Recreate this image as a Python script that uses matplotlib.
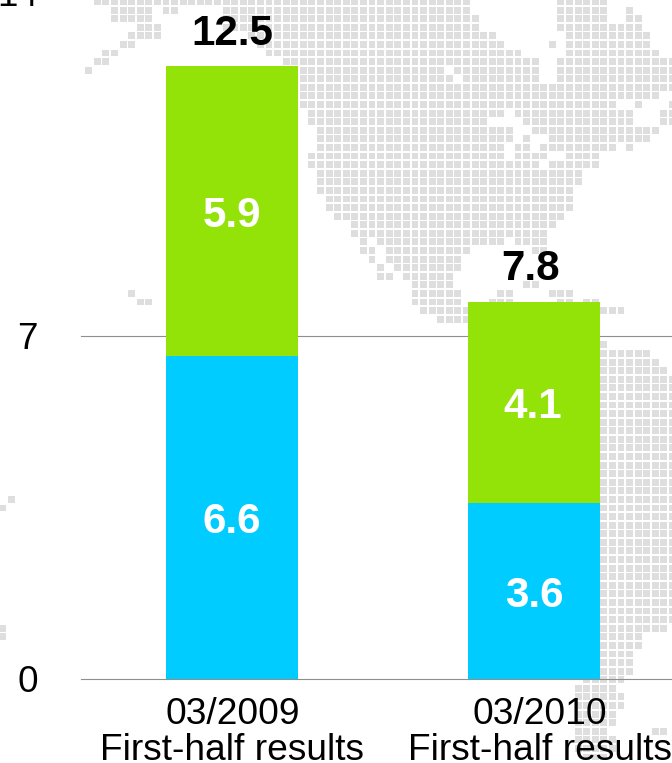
import matplotlib
matplotlib.use("Agg")
import matplotlib.pyplot as plt
from matplotlib.collections import PolyCollection
from matplotlib.transforms import ScaledTranslation

plt.rcParams['font.family'] = ['Liberation Sans', 'DejaVu Sans']

# --- chart data ---
periods = ["03/2009\nFirst-half results", "03/2010\nFirst-half results"]
lower_values = [6.6, 3.6]
upper_values = [5.9, 4.1]
total_labels = ["12.5", "7.8"]
y_ticks = [0, 7, 14]

LOWER_COLOR = "#00CCFF"
UPPER_COLOR = "#94E308"
GRID_COLOR = "#8E8E8E"
MAP_COLOR = "#DEDEDE"

# --- decorative dot-matrix world map: row -> runs of filled columns ---
map_runs = {
    0: [(-28, 15), (26, 31)],
    1: [(-26, -22), (-20, -19), (-13, 15), (26, 31), (34, 34)],
    2: [(-26, -22), (-13, 16), (26, 31), (34, 35)],
    3: [(-23, -21), (-13, 16), (26, 35)],
    4: [(-24, -21), (-10, 18), (27, 36)],
    5: [(-25, -24), (-9, 19), (25, 25), (27, 36)],
    6: [(-27, -26), (-8, 21), (27, 37)],
    7: [(-28, -27), (-6, 23), (26, 39)],
    8: [(-29, -29), (-4, 12), (14, 23), (26, 39)],
    9: [(-4, 13), (15, 23), (26, 39)],
    10: [(-4, 39)],
    11: [(-4, 37)],
    12: [(-4, 32), (35, 35), (39, 39)],
    13: [(-3, 19), (21, 34), (38, 39)],
    14: [(-3, 17), (22, 34), (38, 39)],
    15: [(-2, 20), (23, 37)],
    16: [(-2, 20), (22, 22), (25, 36)],
    17: [(-2, 19), (21, 22), (24, 32), (34, 34)],
    18: [(-3, 19), (21, 24), (27, 30)],
    19: [(-3, 23), (25, 30)],
    20: [(-2, 28)],
    21: [(-2, 28)],
    22: [(-2, 27)],
    23: [(-1, 27)],
    24: [(-1, 27)],
    25: [(0, 26)],
    26: [(2, 25)],
    27: [(2, 24)],
    28: [(3, 3), (5, 19), (21, 24)],
    29: [(3, 4), (6, 15), (23, 24)],
    30: [(4, 4), (6, 14)],
    31: [(5, 5), (7, 14)],
    32: [(5, 6), (8, 13)],
    33: [(9, 13), (22, 23)],
    34: [(-24, -24), (9, 14), (19, 20), (25, 27)],
    35: [(-23, -22), (9, 14), (18, 20), (26, 27), (29, 30)],
    36: [(10, 33)],
    37: [(12, 15)],
    40: [(31, 31)],
    41: [(31, 36)],
    42: [(31, 37)],
    43: [(31, 38)],
    **{r: [(31, 39)] for r in range(44, 73)},
    58: [(-38, -38), (31, 39)],
    59: [(-39, -39), (31, 39)],
    73: [(-39, -39), (31, 38)],
    74: [(-39, -39), (31, 35)],
    75: [(31, 35)],
    76: [(31, 34)],
    77: [(31, 34)],
    78: [(31, 34)],
    79: [(29, 33)],
    80: [(28, 32)],
    81: [(28, 33)],
    82: [(28, 33)],
    83: [(28, 32)],
    84: [(28, 32)],
    85: [(28, 31), (37, 38)],
    86: [(28, 32)],
    87: [(28, 32)],
    88: [(29, 31)],
}

W, H, DPI = 672, 763, 100
fig = plt.figure(figsize=(W / DPI, H / DPI), dpi=DPI, facecolor="white")

# background map, in pixel coordinates
bg = fig.add_axes([0, 0, 1, 1], zorder=0)
bg.set_xlim(0, W)
bg.set_ylim(H, 0)
bg.axis("off")
pitch, side, col0, row0 = 8.585, 6.9, 337.7, 1.5
squares = []
for row, runs in map_runs.items():
    cy = row0 + row * pitch
    for start, end in runs:
        for col in range(start, end + 1):
            cx = col0 + col * pitch
            h = side / 2
            squares.append([(cx - h, cy - h), (cx + h, cy - h), (cx + h, cy + h), (cx - h, cy + h)])
bg.add_collection(PolyCollection(squares, facecolors=MAP_COLOR, edgecolors="none"))

# main axes: extends above the canvas so the 14 tick label is cropped
x0, x1 = 81, 672
y_zero, px_per_unit = 679, 49.0
ax = fig.add_axes([x0 / W, (H - y_zero) / H, (x1 - x0) / W, 14 * px_per_unit / H], zorder=1)
ax.patch.set_alpha(0)
ax.set_ylim(0, 14)
ax.set_xlim(-0.5, 1.457)
for s in ax.spines.values():
    s.set_visible(False)

xs = [0, 1]
ax.set_axisbelow(True)
ax.yaxis.grid(True, color=GRID_COLOR, linewidth=0.8, clip_on=False)
ax.xaxis.grid(False)
ax.bar(xs, lower_values, width=0.435, color=LOWER_COLOR, linewidth=0)
ax.bar(xs, upper_values, width=0.435, bottom=lower_values, color=UPPER_COLOR, linewidth=0)

ax.set_yticks(y_ticks)
ax.set_xticks(xs)
ax.set_xticklabels(periods, fontsize=26.7, linespacing=1.02, color="black")
ax.tick_params(axis="both", length=0)
ax.tick_params(axis="x", pad=13.3)
ax.tick_params(axis="y", labelsize=26.6, pad=31)
for lbl in ax.get_yticklabels():
    lbl.set_clip_on(False)
tick_label_dx = [0.5, 6]
for lbl, dx in zip(ax.get_xticklabels(), tick_label_dx):
    lbl.set_transform(lbl.get_transform() + ScaledTranslation(dx / DPI, 0, fig.dpi_scale_trans))

PX = 72 / DPI
bold = dict(fontsize=30.3, fontweight="bold", ha="center", va="baseline")
total_dx = [0.5, -3.5]
total_dy = [21.5, 21.5]
for x, lo, up, total, dx, dy in zip(xs, lower_values, upper_values, total_labels, total_dx, total_dy):
    ax.annotate(f"{lo:.1f}", (x, lo / 2), xytext=(0, -16 * PX), textcoords="offset points",
                color="white", **bold)
    ax.annotate(f"{up:.1f}", (x, lo + up / 2), xytext=(-1 * PX * x, -16 * PX), textcoords="offset points",
                color="white", **bold)
    ax.annotate(total, (x, lo + up), xytext=(dx * PX, dy * PX), textcoords="offset points",
                color="black", **bold)

fig.savefig("out.png", dpi=DPI)
